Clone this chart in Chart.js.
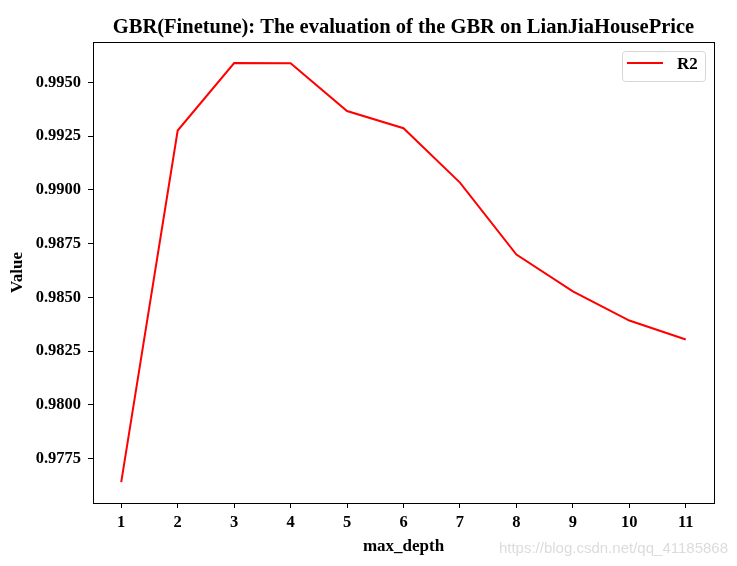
<!DOCTYPE html>
<html>
<head>
<meta charset="utf-8">
<script src="https://cdn.jsdelivr.net/npm/chart.js@4/dist/chart.umd.min.js"></script>
<style>
  html, body { margin: 0; padding: 0; background: #fff; }
  #wrap { width: 737px; height: 566px; position: relative; }
</style>
</head>
<body>
<div id="wrap"><canvas id="chart" width="737" height="566"></canvas></div>
<script>
// max_depth values and the R2 score
const depths = [1, 2, 3, 4, 5, 6, 7, 8, 9, 10, 11];
const r2 = [0.97640, 0.99276, 0.99590, 0.99589, 0.99367, 0.99287, 0.99034, 0.98699, 0.98528, 0.98392, 0.98304];
const yTicks = [0.9775, 0.9800, 0.9825, 0.9850, 0.9875, 0.9900, 0.9925, 0.9950];

const FONT = '"Liberation Serif", "Times New Roman", serif';
const WATERMARK = 'https://blog.csdn.net/qq_41185868';

// frame round the plot area plus a matplotlib-like legend box
const framePlugin = {
    id: 'frame',
    afterDatasetsDraw(chart) {
        const { ctx, chartArea: a } = chart;
        ctx.save();
        ctx.strokeStyle = '#000';
        ctx.lineWidth = 1;
        ctx.strokeRect(a.left + 0.5, a.top + 0.5, a.right - a.left, a.bottom - a.top);

        const ds = chart.data.datasets[0];
        const bx = a.right - 92, by = a.top + 9, bw = 83, bh = 30;
        ctx.fillStyle = 'rgba(255,255,255,0.8)';
        ctx.strokeStyle = '#d6d6d6';
        ctx.beginPath();
        ctx.roundRect(bx + 0.5, by + 0.5, bw, bh, 3);
        ctx.fill();
        ctx.stroke();

        ctx.strokeStyle = ds.borderColor;
        ctx.lineWidth = 2;
        ctx.beginPath();
        ctx.moveTo(bx + 5, by + 12);
        ctx.lineTo(bx + 41, by + 12);
        ctx.stroke();

        ctx.fillStyle = '#000';
        ctx.font = 'bold 17px ' + FONT;
        ctx.textBaseline = 'alphabetic';
        ctx.fillText(ds.label, bx + 55, by + 18);

        // faint blog watermark, bottom right
        ctx.fillStyle = '#dcdcdc';
        ctx.font = '15px "Liberation Sans", Arial, sans-serif';
        ctx.textAlign = 'right';
        ctx.fillText(WATERMARK, 728, 553);
        ctx.restore();
    }
};

new Chart(document.getElementById('chart'), {
    type: 'line',
    data: {
        labels: depths,
        datasets: [{
            label: 'R2',
            data: depths.map((d, i) => ({ x: d, y: r2[i] })),
            borderColor: '#ff0000',
            borderWidth: 2,
            pointRadius: 0,
            tension: 0,
            fill: false
        }]
    },
    options: {
        responsive: false,
        animation: false,
        layout: { padding: { left: 0, right: 23, top: 0, bottom: 0 } },
        plugins: {
            legend: { display: false },
            tooltip: { enabled: false },
            title: {
                display: true,
                fullSize: false,
                text: 'GBR(Finetune): The evaluation of the GBR on LianJiaHousePrice',
                color: '#000',
                font: { family: FONT, size: 20.5, weight: 'bold' },
                padding: { top: 15, bottom: 2.4 }
            }
        },
        scales: {
            x: {
                type: 'linear',
                min: 0.5,
                max: 11.5,
                afterBuildTicks: s => { s.ticks = depths.map(v => ({ value: v })); },
                afterFit: s => { s.height = 63; },
                ticks: {
                    color: '#000',
                    font: { family: FONT, size: 16.5, weight: 'bold' },
                    padding: 5,
                    maxRotation: 0
                },
                grid: { drawOnChartArea: false, drawTicks: true, tickLength: 5, color: '#000' },
                border: { display: true, color: '#000' },
                title: {
                    display: true,
                    text: 'max_depth',
                    color: '#000',
                    font: { family: FONT, size: 17, weight: 'bold' },
                    padding: { top: 2, bottom: 9 }
                }
            },
            y: {
                min: 0.97543,
                max: 0.99688,
                afterBuildTicks: s => { s.ticks = yTicks.map(v => ({ value: v })); },
                afterFit: s => { s.width = 93; },
                ticks: {
                    color: '#000',
                    font: { family: FONT, size: 16.5, weight: 'bold' },
                    padding: 7,
                    callback: v => v.toFixed(4)
                },
                grid: { drawOnChartArea: false, drawTicks: true, tickLength: 5, color: '#000' },
                border: { display: true, color: '#000' },
                title: {
                    display: true,
                    text: 'Value',
                    color: '#000',
                    font: { family: FONT, size: 17, weight: 'bold' },
                    padding: { top: 7, bottom: 4 }
                }
            }
        }
    },
    plugins: [framePlugin]
});
</script>
</body>
</html>
